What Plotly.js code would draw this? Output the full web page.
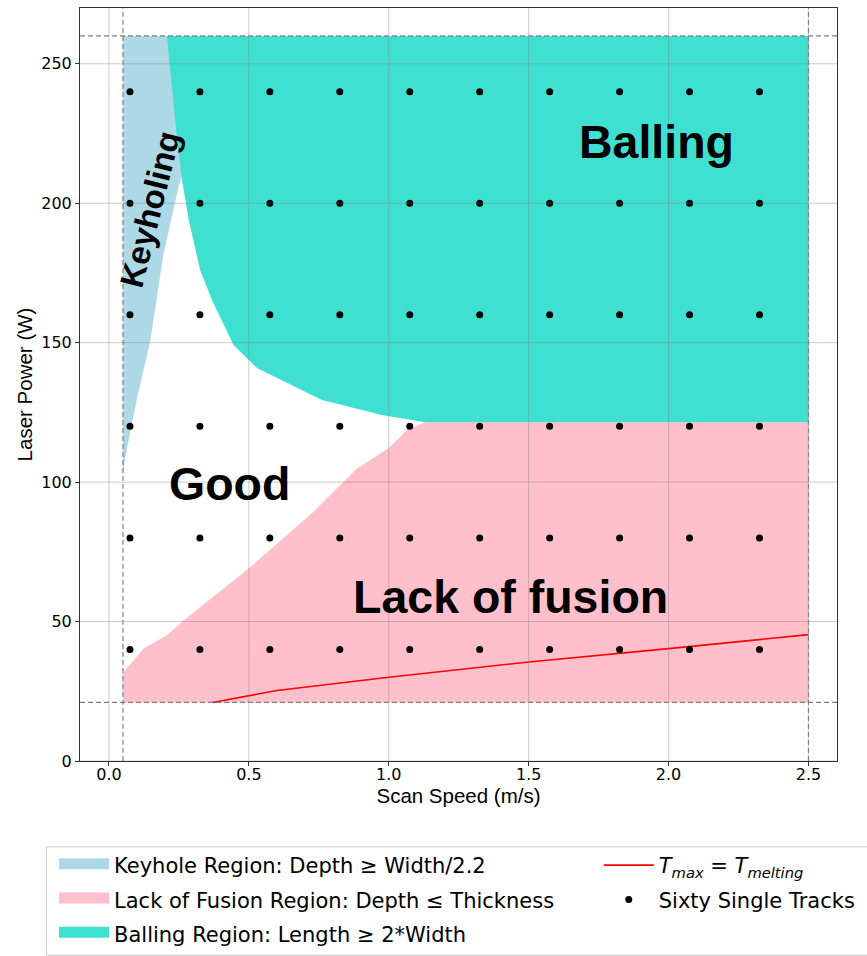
<!DOCTYPE html>
<html><head><meta charset="utf-8">
<script src="https://cdn.plot.ly/plotly-3.0.1.min.js"></script>
<style>html,body{margin:0;padding:0;background:#fff}#chart{width:867px;height:956px}</style>
</head><body><div id="chart"></div>
<script>
// Region boundaries (Scan Speed m/s, Laser Power W)
const keyholeX = [0.05, 0.058, 0.10, 0.148, 0.195, 0.249, 0.262, 0.29, 0.31, 0.05];
const keyholeY = [102, 109, 130, 151, 182, 206, 210, 235, 260, 260];

const lofX = [0.05, 0.05, 0.124, 0.207, 0.261, 0.499, 0.725, 0.886, 0.999, 1.065, 1.13, 2.5, 2.5];
const lofY = [21, 31.6, 40.3, 45.1, 49.9, 69.0, 88.8, 104.9, 112.1, 118.7, 121.5, 121.5, 21];

const ballingX = [0.207, 0.240, 0.261, 0.285, 0.326, 0.368, 0.445, 0.529, 0.761, 0.975, 1.13, 2.5, 2.5];
const ballingY = [260, 226.3, 208.3, 194, 176, 165.3, 149.2, 140.9, 129.4, 124.1, 121.5, 121.5, 260];

const tmaxX = [0.37, 0.60, 1.00, 1.50, 2.00, 2.50];
const tmaxY = [21, 25.3, 30.0, 35.5, 40.3, 45.3];

const trackSpeeds = [0.075, 0.325, 0.575, 0.825, 1.075, 1.325, 1.575, 1.825, 2.075, 2.325];
const trackPowers = [40, 80, 120, 160, 200, 240];

const boundSpeeds = [0.05, 2.5];
const boundPowers = [21, 260];

const xTicks = [0.0, 0.5, 1.0, 1.5, 2.0, 2.5];
const yTicks = [0, 50, 100, 150, 200, 250];

const regionNames = ['Keyhole Region: Depth \u2265 Width/2.2', 'Lack of Fusion Region: Depth \u2264 Thickness', 'Balling Region: Length \u2265 2*Width'];
const regionColors = ['#ADD8E6', '#FFC0CB', '#40E0D0'];

const regionLabels = ['Balling', 'Good', 'Lack of fusion', 'Keyholing'];
const labelX = [1.958, 0.432, 1.436, 0.148];
const labelY = [222, 99.5, 58.8, 198];

// build track points
const tx = [], ty = [];
trackPowers.forEach(p => trackSpeeds.forEach(s => { tx.push(s); ty.push(p); }));

const polysX = [keyholeX, lofX, ballingX];
const polysY = [keyholeY, lofY, ballingY];

const traces = [];
polysX.forEach((px, i) => traces.push({type:'scatter', mode:'lines', x:px, y:polysY[i], fill:'toself',
  fillcolor:regionColors[i], line:{width:0, color:regionColors[i]}, showlegend:false, hoverinfo:'skip'}));
// legend entries for the regions (no data drawn; legend swatch only)
regionNames.forEach((n, i) => traces.push({type:'scatter', mode:'lines', x:[null], y:[null], fill:'toself',
  fillcolor:regionColors[i], line:{width:10, color:regionColors[i]}, name:n, legend:'legend', legendgroup:'r'+i, hoverinfo:'skip'}));
traces.push({type:'scatter', mode:'lines', x:tmaxX, y:tmaxY, line:{color:'#ff0000', width:1.6},
   name:'<i>T</i><sub><i>max</i></sub> = <i>T</i><sub><i>melting</i></sub>', legend:'legend2', legendgroup:'t'});
traces.push({type:'scatter', mode:'markers', x:tx, y:ty, marker:{color:'#000', size:7},
   name:'Sixty Single Tracks', legend:'legend2', legendgroup:'d'});

const shapes = [];
const gridColor = 'rgba(128,128,128,0.4)';
xTicks.forEach(v => shapes.push({type:'line', xref:'x', yref:'paper', x0:v, x1:v, y0:0, y1:1, layer:'above', line:{color:gridColor, width:1}}));
yTicks.forEach(v => shapes.push({type:'line', xref:'paper', yref:'y', x0:0, x1:1, y0:v, y1:v, layer:'above', line:{color:gridColor, width:1}}));
boundSpeeds.forEach(v => shapes.push({type:'line', xref:'x', yref:'paper', x0:v, x1:v, y0:0, y1:1, layer:'above', line:{color:'#7f7f7f', width:1.2, dash:'5px,3px'}}));
boundPowers.forEach(v => shapes.push({type:'line', xref:'paper', yref:'y', x0:0, x1:1, y0:v, y1:v, layer:'above', line:{color:'#7f7f7f', width:1.2, dash:'5px,3px'}}));
// legend frame
shapes.push({type:'rect', xref:'paper', yref:'paper', x0:-0.0442, x1:1.06, y0:-0.258, y1:-0.114, layer:'above', line:{color:'#cccccc', width:1}, fillcolor:'rgba(0,0,0,0)'});

const annotations = regionLabels.map((t, i) => ({
  text:t, x:labelX[i], y:labelY[i], xref:'x', yref:'y', showarrow:false,
  xanchor:'center', yanchor:'middle',
  textangle: t === 'Keyholing' ? -76 : 0,
  font:{family:'Liberation Sans, Arial', size: t === 'Keyholing' ? 33 : 46.5, color:'#000', weight:'bold'}
}));

const axisCommon = {showline:true, mirror:true, linecolor:'#333', linewidth:1, ticks:'outside', ticklen:4, tickcolor:'#333',
  showgrid:false, zeroline:false, tickfont:{family:'DejaVu Sans', size:16, color:'#000'}};

const legendCommon = {xref:'paper', yref:'container', xanchor:'left', yanchor:'top', orientation:'v',
  bgcolor:'rgba(0,0,0,0)', font:{family:'DejaVu Sans', size:21, color:'#000'}, itemwidth:50, tracegroupgap:4};

const layout = {
  width:867, height:956, paper_bgcolor:'#fff', plot_bgcolor:'#fff',
  margin:{l:80, r:30, t:8, b:195},
  xaxis:Object.assign({}, axisCommon, {range:[-0.1036, 2.602], tickvals:xTicks, ticktext:xTicks.map(v=>v.toFixed(1)),
    ticklabelstandoff:-5,
    title:{text:'Scan Speed (m/s)', font:{family:'Liberation Sans, Arial', size:20.5, color:'#000'}, standoff:4}}),
  yaxis:Object.assign({}, axisCommon, {range:[0, 270], tickvals:yTicks,
    title:{text:'Laser Power (W)', font:{family:'Liberation Sans, Arial', size:20.5, color:'#000'}, standoff:3}}),
  showlegend:true,
  legend:Object.assign({}, legendCommon, {x:-0.0343, y:0.1161}),
  legend2:Object.assign({}, legendCommon, {x:0.6853, y:0.1161}),
  shapes:shapes, annotations:annotations
};

Plotly.newPlot('chart', traces, layout, {displayModeBar:false, responsive:false});
</script></body></html>
